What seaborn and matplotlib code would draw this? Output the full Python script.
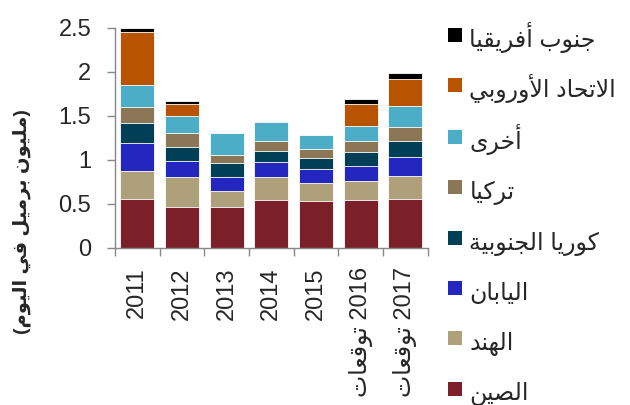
import numpy as np
import pandas as pd
import seaborn as sns
import matplotlib.pyplot as plt
from matplotlib.lines import Line2D

# dados (milhões de barris por dia)
years = ['2011', '2012', '2013', '2014', '2015', '2016', '2017']
notes = ['', '', '', '', '', 'توقعات', 'توقعات']

countries = ['الصين', 'الهند', 'اليابان', 'كوريا الجنوبية', 'تركيا', 'أخرى',
             'الاتحاد الأوروبي', 'جنوب أفريقيا']
colors = ['#7b2029', '#ada07a', '#2327c0', '#003f55', '#8b7756', '#4badc6',
          '#b85400', '#000000']

china = [0.55, 0.46, 0.46, 0.54, 0.53, 0.54, 0.55]
india = [0.32, 0.34, 0.19, 0.27, 0.21, 0.22, 0.27]
japan = [0.32, 0.19, 0.16, 0.17, 0.16, 0.17, 0.21]
korea = [0.23, 0.16, 0.15, 0.12, 0.12, 0.16, 0.18]
turkey = [0.18, 0.16, 0.09, 0.11, 0.10, 0.12, 0.16]
other = [0.25, 0.19, 0.26, 0.22, 0.16, 0.18, 0.24]
eu = [0.60, 0.13, 0.0, 0.0, 0.0, 0.25, 0.31]
south_africa = [0.05, 0.04, 0.0, 0.0, 0.0, 0.05, 0.07]

series = [china, india, japan, korea, turkey, other, eu, south_africa]
ylabel = '(مليون برميل في اليوم)'


# matplotlib nao faz shaping do arabe, entao usamos as formas de apresentacao
def _f(start, n):
    return tuple(chr(start + k) for k in range(n))


FORMS = {
    'ا': _f(0xFE8D, 2), 'أ': _f(0xFE83, 2), 'ب': _f(0xFE8F, 4), 'ة': _f(0xFE93, 2),
    'ت': _f(0xFE95, 4), 'ج': _f(0xFE9D, 4), 'ح': _f(0xFEA1, 4), 'خ': _f(0xFEA5, 4),
    'د': _f(0xFEA9, 2), 'ر': _f(0xFEAD, 2), 'ص': _f(0xFEB9, 4), 'ع': _f(0xFEC9, 4),
    'ف': _f(0xFED1, 4), 'ق': _f(0xFED5, 4), 'ك': _f(0xFED9, 4), 'ل': _f(0xFEDD, 4),
    'م': _f(0xFEE1, 4), 'ن': _f(0xFEE5, 4), 'ه': _f(0xFEE9, 4), 'و': _f(0xFEED, 2),
    'ى': _f(0xFEEF, 2), 'ي': _f(0xFEF1, 4),
    '\uFEFB': _f(0xFEFB, 2), '\uFEF7': _f(0xFEF7, 2),
}


def ar(text):
    s = text.replace('لا', '\uFEFB').replace('لأ', '\uFEF7')
    out = []
    for i, ch in enumerate(s):
        if ch not in FORMS:
            out.append(ch)
            continue
        forms = FORMS[ch]
        prev = s[i - 1] if i > 0 else ''
        nxt = s[i + 1] if i + 1 < len(s) else ''
        jp = prev in FORMS and len(FORMS[prev]) == 4
        jn = len(forms) == 4 and nxt in FORMS
        if jp and jn:
            out.append(forms[3])
        elif jp:
            out.append(forms[1])
        elif jn:
            out.append(forms[2])
        else:
            out.append(forms[0])
    vis = ''.join(out)[::-1]
    return vis.translate(str.maketrans('()', ')('))


sns.set_theme(style="white")
plt.rcParams['font.family'] = ['Liberation Sans', 'DejaVu Sans']

fig = plt.figure(figsize=(6.3, 4.05), dpi=100)
ax = fig.add_axes([0.1825, 0.388, 0.4965, 0.543])

# barras empilhadas: desenha os totais acumulados de cima para baixo
tops = np.cumsum(np.array(series), axis=0)
for k in range(len(series) - 1, -1, -1):
    df = pd.DataFrame({'ano': years, 'topo': tops[k]})
    sns.barplot(data=df, x='ano', y='topo', color=colors[k], width=0.76,
                errorbar=None, edgecolor='white', linewidth=0.6, saturation=1,
                ax=ax)

ax.set_ylim(0, 2.5)
ax.set_xlim(-0.5, len(years) - 0.5)
yt = np.arange(0, 2.51, 0.5)
ax.set_yticks(yt)
ax.set_yticklabels([f'{v:g}' for v in yt], fontsize=17)
labels = [f'{ar(n)} {y}' if n else y for y, n in zip(years, notes)]
ax.set_xticks(range(len(years)))
ax.set_xticklabels(labels, rotation=90, fontsize=17)
ax.set_xticks(np.arange(-0.5, len(years)), minor=True)
ax.tick_params(axis='x', which='major', length=0, pad=14)
ax.tick_params(axis='x', which='minor', length=6, width=1, color='#888888', bottom=True)
ax.tick_params(axis='y', length=6, width=1, color='#888888', left=True, pad=11)
ax.set_xlabel('')
ax.set_ylabel('')
for side in ['top', 'right']:
    ax.spines[side].set_visible(False)
for side in ['left', 'bottom']:
    ax.spines[side].set_color('#888888')
    ax.spines[side].set_linewidth(1)

fig.text(22 / 630, 1 - 222 / 405, ar(ylabel), rotation=90, fontsize=14,
         fontweight='bold', ha='center', va='center')

# legenda: quadrados com altura de linha fixa para espaçamento uniforme
handles = [Line2D([], [], marker='s', linestyle='', markersize=10.5,
                  markerfacecolor=c, markeredgewidth=0) for c in colors][::-1]
names = [ar(c) for c in countries][::-1]
fig.legend(handles, names, loc='upper left', bbox_to_anchor=(448 / 630, 1 - 22 / 405),
           frameon=False, fontsize=17, handlelength=0.6, handleheight=1.7,
           handletextpad=0.3, labelspacing=0.78, borderpad=0, borderaxespad=0)

fig.savefig('out.png', dpi=100)
